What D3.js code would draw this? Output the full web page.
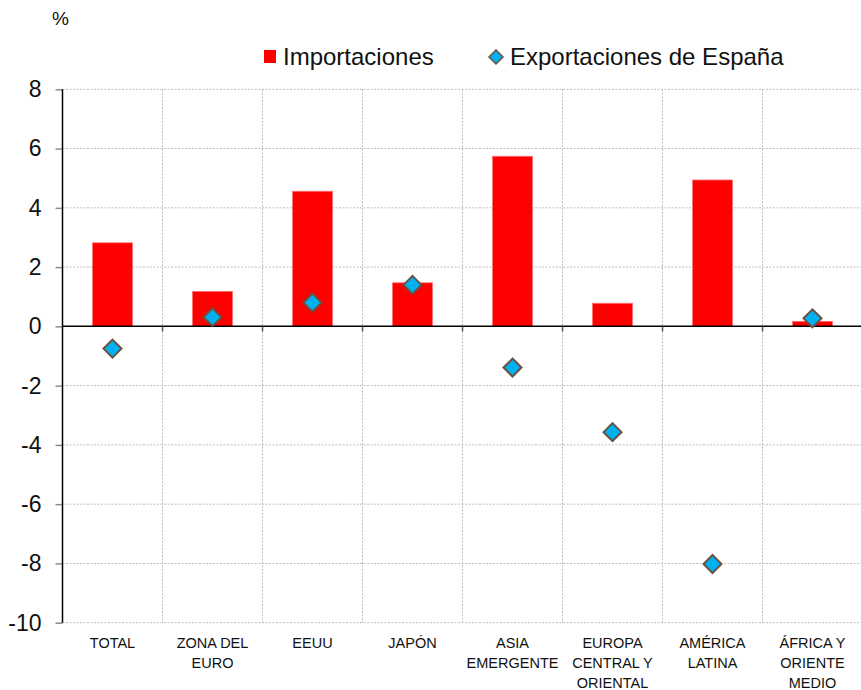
<!DOCTYPE html>
<html>
<head>
<meta charset="utf-8">
<script src="https://cdn.jsdelivr.net/npm/d3@7"></script>
<style>
  body { margin: 0; background: #fff; }
  svg { display: block; font-family: "Liberation Sans", Arial, Helvetica, sans-serif; }
</style>
</head>
<body>
<svg width="861" height="690"></svg>
<script>
const categories = [
    ['TOTAL'],
    ['ZONA DEL', 'EURO'],
    ['EEUU'],
    ['JAPÓN'],
    ['ASIA', 'EMERGENTE'],
    ['EUROPA', 'CENTRAL Y', 'ORIENTAL'],
    ['AMÉRICA', 'LATINA'],
    ['ÁFRICA Y', 'ORIENTE', 'MEDIO']
]
const importaciones = [2.82, 1.18, 4.56, 1.47, 5.74, 0.78, 4.94, 0.17]
const exportaciones = [-0.75, 0.31, 0.80, 1.40, -1.39, -3.57, -8.02, 0.27]
const yTicks = [8, 6, 4, 2, 0, -2, -4, -6, -8, -10]

const keys = categories.map(c => c.join(' '))

const svg = d3.select('svg')

const xScale = d3.scaleBand()
    .domain(keys)
    .range([62.5, 862.5])
    .padding(0)

const yScale = d3.scaleLinear()
    .domain([-10, 8])
    .range([622.7, 89.3])

// grid
svg.append('g')
    .selectAll('line')
    .data(yTicks.filter(t => t !== 0))
    .enter()
    .append('line')
    .attr('x1', 62.5).attr('x2', 862.5)
    .attr('y1', d => yScale(d)).attr('y2', d => yScale(d))
    .attr('stroke', '#bcbcbc')
    .attr('stroke-dasharray', '2,1.5')

svg.append('g')
    .selectAll('line')
    .data(keys.slice(1))
    .enter()
    .append('line')
    .attr('x1', d => xScale(d)).attr('x2', d => xScale(d))
    .attr('y1', yScale(8)).attr('y2', yScale(-10))
    .attr('stroke', '#bcbcbc')
    .attr('stroke-dasharray', '2,1.5')

// bars
svg.append('g')
    .selectAll('rect')
    .data(importaciones)
    .enter()
    .append('rect')
    .attr('x', (d, i) => xScale(keys[i]) + 30)
    .attr('width', 40)
    .attr('y', d => yScale(Math.max(0, d)))
    .attr('height', d => Math.abs(yScale(d) - yScale(0)))
    .attr('fill', '#ff0000')
    .attr('stroke', '#ff7070')
    .attr('stroke-width', 0.8)

// y axis
const yAxis = d3.axisLeft(yScale)
    .tickValues(yTicks)
    .tickSize(7)
    .tickPadding(14)
    .tickFormat(d3.format('d'))

const yg = svg.append('g')
    .attr('transform', 'translate(62.5,0)')
    .call(yAxis)
yg.select('.domain').remove()
yg.selectAll('.tick line').attr('stroke', '#8c8c8c').attr('stroke-width', 1.5)
yg.selectAll('.tick text')
    .attr('font-size', 23)
    .attr('fill', '#111')
    .style('font-family', '"Liberation Sans", Arial, sans-serif')
    .text(d => d < 0 ? '-' + Math.abs(d) : d)

svg.append('line')
    .attr('x1', 62.5).attr('x2', 62.5)
    .attr('y1', yScale(8)).attr('y2', yScale(-10))
    .attr('stroke', '#000').attr('stroke-width', 1.5)

// zero line with small ticks
svg.append('line')
    .attr('x1', 62.5).attr('x2', 862.5)
    .attr('y1', yScale(0)).attr('y2', yScale(0))
    .attr('stroke', '#000').attr('stroke-width', 1.5)

svg.append('g')
    .selectAll('line')
    .data(keys.slice(1))
    .enter()
    .append('line')
    .attr('x1', d => xScale(d)).attr('x2', d => xScale(d))
    .attr('y1', yScale(0)).attr('y2', yScale(0) + 5)
    .attr('stroke', '#555').attr('stroke-width', 1.5)

// diamonds
const diamond = s => `M0,${-s}L${s},0L0,${s}L${-s},0Z`

svg.append('g')
    .selectAll('path')
    .data(exportaciones)
    .enter()
    .append('path')
    .attr('d', diamond(9))
    .attr('transform', (d, i) => `translate(${xScale(keys[i]) + xScale.bandwidth() / 2},${yScale(d)})`)
    .attr('fill', '#00b0f0')
    .attr('stroke', '#6b5140')
    .attr('stroke-width', 2)

// category labels
const labels = svg.append('g')
    .selectAll('text')
    .data(categories)
    .enter()
    .append('text')
    .attr('x', (d, i) => xScale(keys[i]) + xScale.bandwidth() / 2)
    .attr('y', 648)
    .attr('text-anchor', 'middle')
    .attr('font-size', 14.5)
    .attr('fill', '#111')

labels.selectAll('tspan')
    .data(d => d)
    .enter()
    .append('tspan')
    .attr('x', function () { return this.parentNode.getAttribute('x') })
    .attr('dy', (d, i) => i === 0 ? 0 : 20)
    .text(d => d)

// unit
svg.append('text')
    .attr('x', 52).attr('y', 25)
    .attr('font-size', 19)
    .attr('fill', '#111')
    .text('%')

// legend
const legend = svg.append('g')
legend.append('rect')
    .attr('x', 264).attr('y', 50).attr('width', 12).attr('height', 13)
    .attr('fill', '#ff0000')
legend.append('text')
    .attr('x', 283).attr('y', 65)
    .attr('font-size', 24)
    .attr('fill', '#111')
    .text('Importaciones')
legend.append('path')
    .attr('d', diamond(7))
    .attr('transform', 'translate(496,57)')
    .attr('fill', '#00b0f0')
    .attr('stroke', '#6b5140')
    .attr('stroke-width', 1.5)
legend.append('text')
    .attr('x', 510).attr('y', 65)
    .attr('font-size', 24)
    .attr('fill', '#111')
    .text('Exportaciones de España')
</script>
</body>
</html>
